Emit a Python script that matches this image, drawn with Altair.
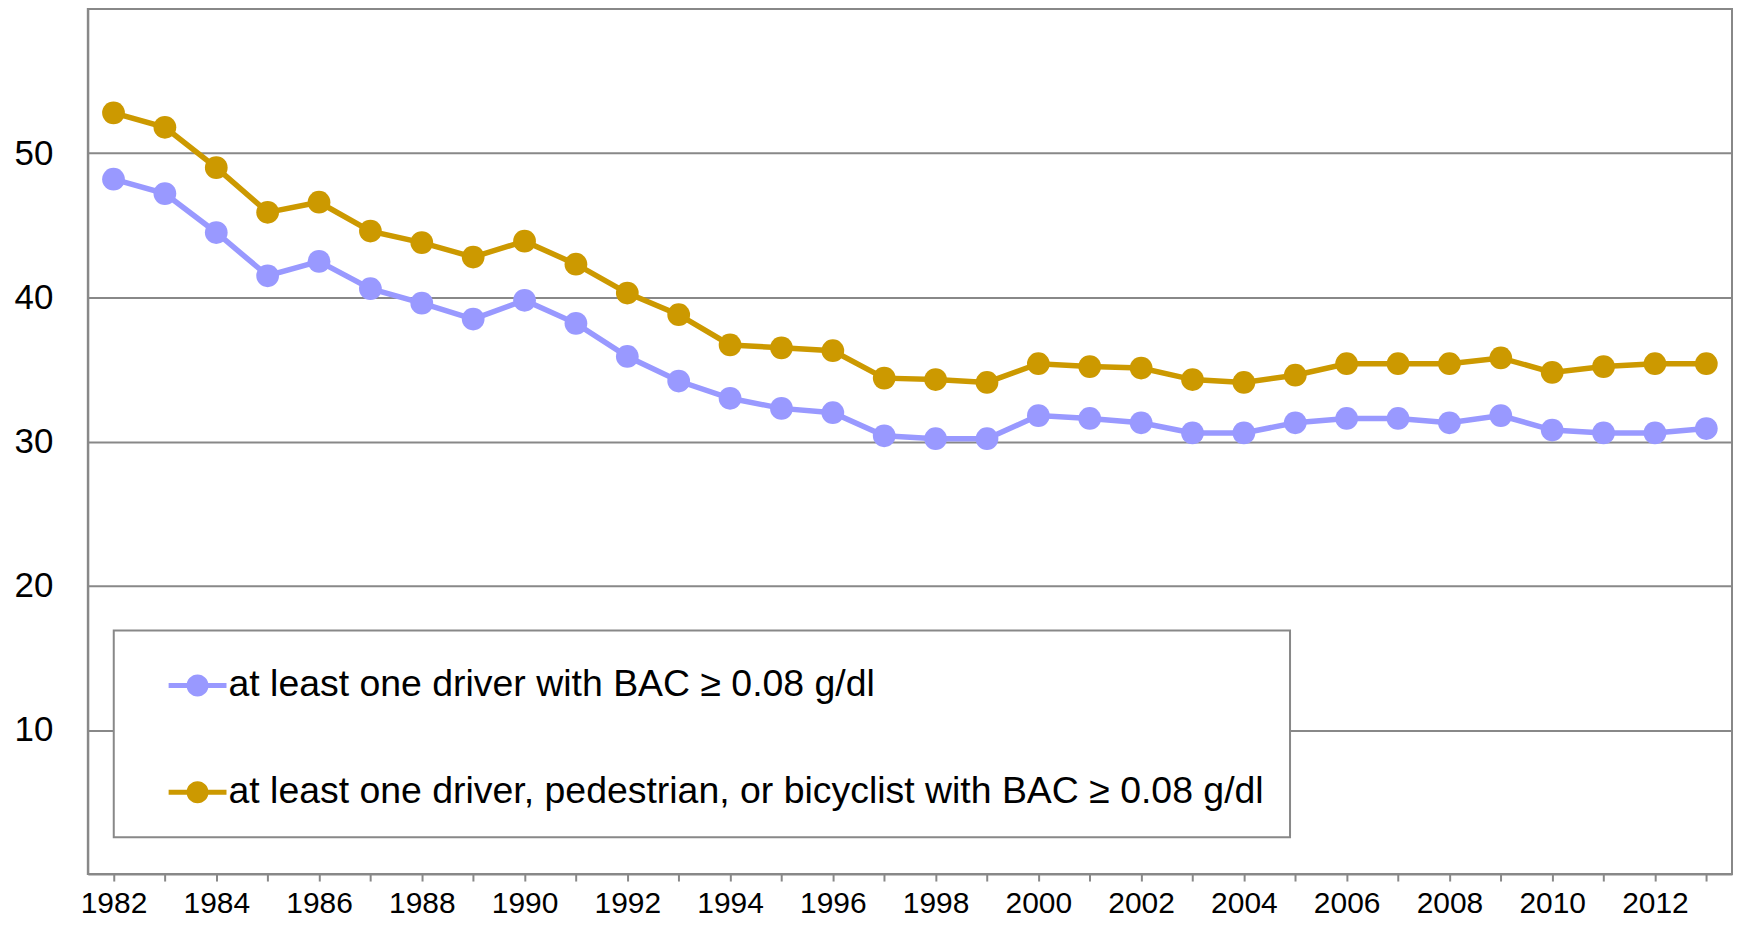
import altair as alt
import pandas as pd

years = list(range(1982, 2014))
driver_bac = [48.2, 47.2, 44.5, 41.5, 42.5, 40.6, 39.6, 38.5, 39.8, 38.2,
              35.9, 34.2, 33.0, 32.3, 32.0, 30.4, 30.2, 30.2, 31.8, 31.6,
              31.3, 30.6, 30.6, 31.3, 31.6, 31.6, 31.3, 31.8, 30.8, 30.6,
              30.6, 30.9]
any_bac = [52.8, 51.8, 49.0, 45.9, 46.6, 44.6, 43.8, 42.8, 43.9, 42.3,
           40.3, 38.8, 36.7, 36.5, 36.3, 34.4, 34.3, 34.1, 35.4, 35.2,
           35.1, 34.3, 34.1, 34.6, 35.4, 35.4, 35.4, 35.8, 34.8, 35.2,
           35.4, 35.4]
series_names = ["at least one driver with BAC \u2265 0.08 g/dl",
                "at least one driver, pedestrian, or bicyclist with BAC \u2265 0.08 g/dl"]
series_colors = ["#9999FF", "#CC9900"]
y_ticks = [10, 20, 30, 40, 50]

rows = []
for name, col, vals in zip(series_names, series_colors, [driver_bac, any_bac]):
    for yr, v in zip(years, vals):
        rows.append({"year": yr, "value": v, "series": name, "color": col})
df = pd.DataFrame(rows)

FONT = "Liberation Sans"
GRAY = "#888888"

x_enc = alt.X("year:Q",
              scale=alt.Scale(domain=[1981.5, 2013.5], nice=False, zero=False),
              axis=alt.Axis(values=years, title=None, grid=False, format="d",
                            labelExpr="datum.value % 2 == 0 ? toString(datum.value) : ''",
                            labelOverlap=False, labelFlush=False,
                            labelFontSize=30, labelFont=FONT, labelColor="#000000",
                            labelPadding=8, tickSize=7, tickColor=GRAY, tickWidth=2,
                            domainColor=GRAY, domainWidth=2))
y_enc = alt.Y("value:Q",
              scale=alt.Scale(domain=[0, 60], nice=False),
              axis=alt.Axis(values=y_ticks, title=None, grid=True, gridColor=GRAY,
                            gridWidth=2, gridOpacity=1, ticks=False, tickSize=0,
                            labelFontSize=35, labelFont=FONT, labelColor="#000000",
                            labelPadding=35, domainColor=GRAY, domainWidth=2))

legend_symbol = ("M-1,-0.09 L1,-0.09 L1,0.09 L-1,0.09 Z "
                 "M0.38,0 C0.38,0.21 0.21,0.38 0,0.38 C-0.21,0.38 -0.38,0.21 -0.38,0 "
                 "C-0.38,-0.21 -0.21,-0.38 0,-0.38 C0.21,-0.38 0.38,-0.21 0.38,0 Z")

lines = alt.Chart(df).mark_line(strokeWidth=5.5).encode(
    x=x_enc, y=y_enc,
    stroke=alt.Stroke("color:N", scale=None),
    detail="series:N",
)

points = alt.Chart(df).mark_circle(size=520, opacity=1).encode(
    x=x_enc, y=y_enc,
    fill=alt.Fill("series:N", scale=alt.Scale(domain=series_names, range=series_colors),
                  legend=alt.Legend(
                      title=None, orient="none", legendX=26, legendY=623,
                      symbolType=legend_symbol, symbolSize=3364,
                      symbolStrokeWidth=0, symbolOffset=29, symbolOpacity=1,
                      labelOffset=2, labelFontSize=37.5, labelFont=FONT,
                      labelColor="#000000", labelLimit=3000,
                      rowPadding=59, padding=26,
                      strokeColor=GRAY, fillColor="#FFFFFF")),
)

chart = alt.layer(lines, points).properties(
    width=1648, height=867,
    autosize=alt.AutoSizeParams(type="none"),
    padding={"left": 80, "top": 0, "right": 1, "bottom": 46},
    background="#FFFFFF",
).configure_view(
    stroke=GRAY, strokeWidth=2
).configure_legend(
    strokeWidth=2
)

chart.save("out.html", embed_options={"renderer": "svg", "actions": False})
